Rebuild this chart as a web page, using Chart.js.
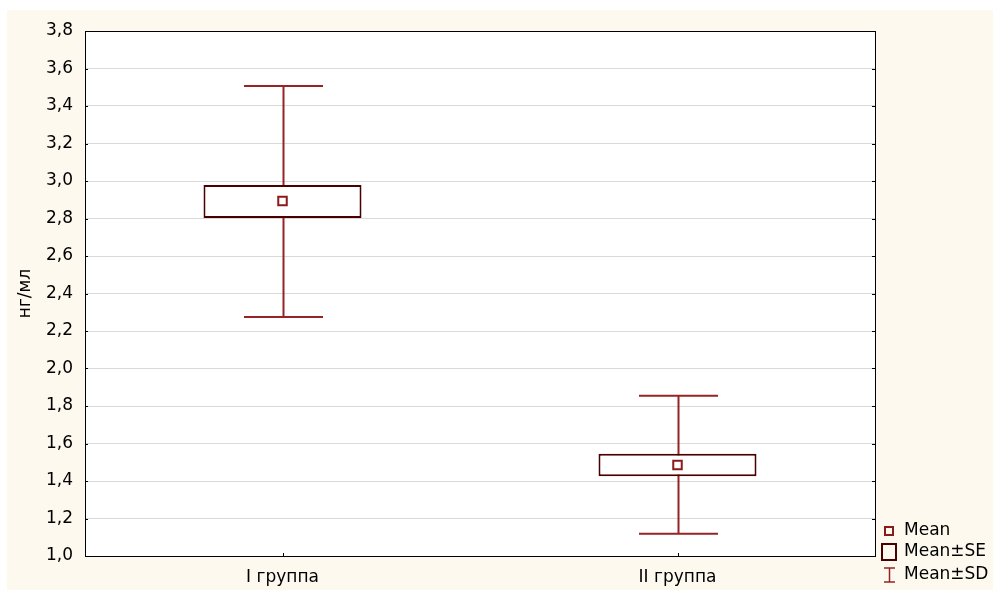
<!DOCTYPE html>
<html>
<head>
<meta charset="utf-8">
<script src="https://cdn.jsdelivr.net/npm/chart.js"></script>
<style>
  html, body { margin: 0; padding: 0; background: #fff; }
  canvas { display: block; }
</style>
</head>
<body>
<canvas id="chart" width="993" height="590"></canvas>
<script>
// Data
const groups = ['I группа', 'II группа'];
const means = [2.893, 1.485];
const seLow = [2.803, 1.425];
const seHigh = [2.979, 1.546];
const sdLow = [2.275, 1.119];
const sdHigh = [3.507, 1.855];
const yMin = 1.0;
const yMax = 3.8;
const yStep = 0.2;
const yTitle = 'нг/мл';
const legendLabels = ['Mean', 'Mean±SE', 'Mean±SD'];

const FONT = '"DejaVu Sans", "Liberation Sans", sans-serif';
const whiskerColor = '#962424';
const boxColor = '#4a0000';
const meanColor = '#8b1a1a';

const decor = {
  id: 'decor',
  beforeDraw: function (chart) {
    var ctx = chart.ctx, a = chart.chartArea;
    ctx.save();
    ctx.fillStyle = '#ffffff';
    ctx.fillRect(0, 0, chart.width, chart.height);
    ctx.fillStyle = '#fdf9ef';
    ctx.fillRect(7, 10, chart.width - 7, chart.height - 10);
    ctx.fillStyle = '#ffffff';
    ctx.fillRect(a.left, a.top, a.right - a.left, a.bottom - a.top);
    ctx.restore();
  },
  beforeDatasetsDraw: function (chart) {
    // SD whiskers, drawn under the SE boxes
    var ctx = chart.ctx;
    var xs = chart.scales.x, ys = chart.scales.y;
    var catW = xs.width / groups.length;
    ctx.save();
    ctx.strokeStyle = whiskerColor;
    ctx.lineWidth = 2;
    groups.forEach(function (g, i) {
      var x = Math.round(xs.getPixelForValue(i)) + 0.5;
      var yTop = ys.getPixelForValue(sdHigh[i]);
      var yBot = ys.getPixelForValue(sdLow[i]);
      var half = catW * 0.1;
      ctx.beginPath();
      ctx.moveTo(x, yTop); ctx.lineTo(x, yBot);
      ctx.moveTo(x - half, yTop); ctx.lineTo(x + half, yTop);
      ctx.moveTo(x - half, yBot); ctx.lineTo(x + half, yBot);
      ctx.stroke();
    });
    ctx.restore();
  },
  afterDraw: function (chart) {
    var ctx = chart.ctx, a = chart.chartArea;
    var xs = chart.scales.x, ys = chart.scales.y;
    ctx.save();
    // frame
    ctx.strokeStyle = '#000';
    ctx.lineWidth = 1;
    ctx.strokeRect(Math.round(a.left) + 0.5, Math.round(a.top) + 0.5,
      Math.round(a.right - a.left), Math.round(a.bottom - a.top));
    // inner ticks
    ctx.beginPath();
    ys.ticks.forEach(function (t) {
      var y = Math.round(ys.getPixelForValue(t.value)) + 0.5;
      ctx.moveTo(a.left, y); ctx.lineTo(a.left + 3, y);
      ctx.moveTo(a.right, y); ctx.lineTo(a.right - 3, y);
    });
    groups.forEach(function (g, i) {
      var x = Math.round(xs.getPixelForValue(i)) + 0.5;
      ctx.moveTo(x, a.bottom); ctx.lineTo(x, a.bottom - 3);
    });
    ctx.stroke();

    // legend
    ctx.font = '17px ' + FONT;
    ctx.fillStyle = '#000';
    ctx.textBaseline = 'middle';
    ctx.textAlign = 'left';
    ctx.fillText(legendLabels[0], 904, 531);
    ctx.fillText(legendLabels[1], 904, 552);
    ctx.fillText(legendLabels[2], 904, 575);

    ctx.lineWidth = 2;
    ctx.strokeStyle = meanColor;
    ctx.strokeRect(885, 527, 8, 8);
    ctx.strokeStyle = boxColor;
    ctx.strokeRect(882, 544, 14, 16);
    ctx.strokeStyle = whiskerColor;
    ctx.lineWidth = 1.5;
    ctx.beginPath();
    ctx.moveTo(889.5, 568); ctx.lineTo(889.5, 582);
    ctx.moveTo(884, 568); ctx.lineTo(895, 568);
    ctx.moveTo(884, 582); ctx.lineTo(895, 582);
    ctx.stroke();
    ctx.restore();
  }
};

new Chart(document.getElementById('chart'), {
  type: 'bar',
  data: {
    labels: groups,
    datasets: [
      {
        type: 'line',
        label: legendLabels[0],
        data: means,
        showLine: false,
        pointStyle: 'rect',
        pointRadius: 6,
        pointBorderWidth: 2,
        borderColor: meanColor,
        backgroundColor: 'rgba(0,0,0,0)',
        order: 0,
      },
      {
        label: legendLabels[1],
        data: groups.map(function (g, i) { return [seLow[i], seHigh[i]]; }),
        backgroundColor: '#ffffff',
        borderColor: boxColor,
        borderWidth: 2,
        borderSkipped: false,
        barPercentage: 0.4,
        categoryPercentage: 1,
        order: 1,
      },
    ],
  },
  options: {
    responsive: false,
    devicePixelRatio: 1,
    animation: false,
    layout: { padding: { left: 0, top: 31, right: 118, bottom: 0 } },
    plugins: { legend: { display: false }, tooltip: { enabled: false } },
    scales: {
      x: {
        type: 'category',
        offset: true,
        grid: { display: false, drawTicks: false },
        border: { display: false },
        ticks: { color: '#000', padding: 11, font: { family: FONT, size: 17 } },
        afterFit: function (s) { s.height = 34; },
      },
      y: {
        min: yMin,
        max: yMax,
        grid: { color: '#d9d9d9', lineWidth: 1, drawTicks: false },
        border: { display: false },
        ticks: {
          stepSize: yStep,
          color: '#000',
          padding: 12,
          font: { family: FONT, size: 17 },
          callback: function (v) { return v.toFixed(1).replace('.', ','); },
        },
        title: {
          display: true,
          text: yTitle,
          color: '#000',
          padding: { top: 15, bottom: 0 },
          font: { family: FONT, size: 17 },
        },
        afterFit: function (s) { s.width = 85; },
      },
    },
  },
  plugins: [decor],
});
</script>
</body>
</html>
